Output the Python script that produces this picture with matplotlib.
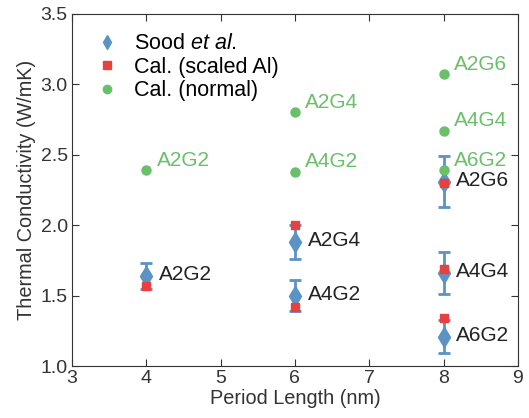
import matplotlib
matplotlib.use("Agg")
import matplotlib.pyplot as plt
from matplotlib.lines import Line2D

plt.rcParams['font.family'] = ['Liberation Sans', 'DejaVu Sans']
plt.rcParams['mathtext.fontset'] = 'custom'
plt.rcParams['mathtext.it'] = 'Liberation Sans:italic'
plt.rcParams['mathtext.rm'] = 'Liberation Sans'

# measured (Sood et al.)
sood_x = [4, 6, 6, 8, 8, 8]
sood_y = [1.64, 1.88, 1.50, 2.31, 1.66, 1.21]
sood_err = [0.09, 0.12, 0.11, 0.18, 0.15, 0.12]
sood_names = ["A2G2", "A2G4", "A4G2", "A2G6", "A4G4", "A6G2"]

# calculated, scaled Al
scaled_x = [4, 6, 6, 8, 8, 8]
scaled_y = [1.57, 2.00, 1.42, 2.30, 1.69, 1.34]

# calculated, normal
normal_x = [4, 6, 6, 8, 8, 8]
normal_y = [2.39, 2.80, 2.38, 3.07, 2.67, 2.39]
normal_names = ["A2G2", "A2G4", "A4G2", "A2G6", "A4G4", "A6G2"]

blue = "#5b93c5"
red = "#e8403f"
green = "#6abf69"

fig = plt.figure(figsize=(5.29, 4.18), dpi=100)
ax = fig.add_axes([0.136, 0.124, 0.843, 0.843])

ax.errorbar(sood_x, sood_y, yerr=sood_err, fmt="d", color=blue, ms=10,
            capsize=4, elinewidth=2, capthick=2, zorder=2)
ax.plot(scaled_x, scaled_y, "s", color=red, ms=6, zorder=3)
ax.plot(normal_x, normal_y, "o", color=green, ms=6.5, zorder=3)

for x, y, t in zip(sood_x, sood_y, sood_names):
    ax.text(x + 0.17, y + 0.01, t, fontsize=15, va="center", color="#222222")
for x, y, t in zip(normal_x, normal_y, normal_names):
    ax.text(x + 0.14, y + 0.07, t, fontsize=15, va="center", color=green)

ax.set_xlim(3, 9)
ax.set_ylim(1.0, 3.5)
ax.set_xticks(range(3, 10))
ax.set_yticks([1.0, 1.5, 2.0, 2.5, 3.0, 3.5])
ax.set_yticklabels(["1.0", "1.5", "2.0", "2.5", "3.0", "3.5"])
ax.tick_params(direction="in", top=True, right=True, labelsize=14, length=5,
               pad=3, color="#333333", labelcolor="#333333")
for s in ax.spines.values():
    s.set_color("#333333")
ax.set_xlabel("Period Length (nm)", fontsize=14.3, color="#333333", labelpad=1)
ax.set_ylabel("Thermal Conductivity (W/mK)", fontsize=14.3, color="#333333", labelpad=3)

handles = [
    Line2D([], [], ls="none", marker="d", color=blue, ms=7.5),
    Line2D([], [], ls="none", marker="s", color=red, ms=5.5),
    Line2D([], [], ls="none", marker="o", color=green, ms=6),
]
labels = [r"Sood $\it{et\ al.}$", "Cal. (scaled Al)", "Cal. (normal)"]
ax.legend(handles, labels, loc="upper left", frameon=False, fontsize=15.5,
          handletextpad=0.5, borderaxespad=0.5, labelspacing=0.12,
          handlelength=1.5, borderpad=0.4)

fig.savefig("out.png", dpi=100)
